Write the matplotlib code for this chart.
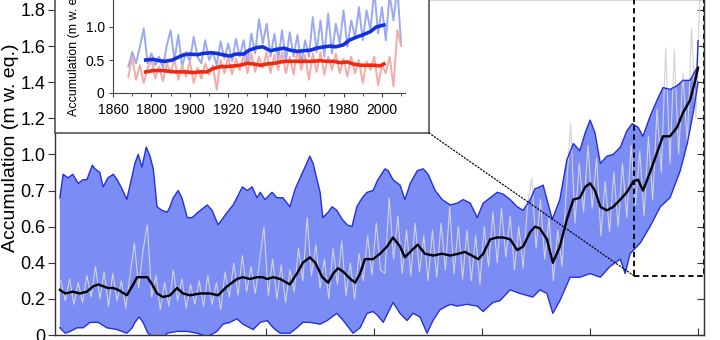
import matplotlib
matplotlib.use('Agg')
import matplotlib.pyplot as plt
import numpy as np
from matplotlib.patches import Rectangle, ConnectionPatch

plt.rcParams['font.family'] = ['Liberation Sans', 'DejaVu Sans']

# ---- main panel: reconstruction envelope, annual values, smoothed mean ----
up_years = [818, 824, 833, 842, 852, 861, 868, 878, 883, 892,
            898, 907, 917, 924, 933, 942, 948, 957, 963, 970,
            978, 985, 991, 998, 1007, 1017, 1022, 1028, 1037, 1044,
            1054, 1063, 1074, 1091, 1100, 1111, 1128, 1139, 1156, 1165,
            1174, 1183, 1189, 1198, 1211, 1220, 1231, 1244, 1254, 1263,
            1272, 1281, 1287, 1300, 1305, 1315, 1322, 1331, 1341, 1350,
            1359, 1368, 1378, 1387, 1398, 1407, 1420, 1426, 1435, 1448,
            1457, 1467, 1480, 1491, 1500, 1513, 1526, 1541, 1554, 1565,
            1578, 1591, 1602, 1615, 1628, 1639, 1652, 1665, 1676, 1689,
            1698, 1707, 1713, 1730, 1744, 1757, 1769, 1781, 1791, 1800,
            1809, 1819, 1831, 1843, 1856, 1868, 1878, 1889, 1898, 1911,
            1924, 1935, 1948, 1961, 1972, 1985, 1998, 2000]
up_vals = [0.76, 0.89, 0.87, 0.89, 0.84, 0.86, 0.86, 0.94, 0.92, 0.90,
           0.82, 0.87, 0.89, 0.86, 0.81, 0.75, 0.83, 0.95, 1.00, 0.93,
           1.04, 0.99, 0.92, 0.71, 0.69, 0.68, 0.71, 0.76, 0.80, 0.76,
           0.65, 0.65, 0.68, 0.72, 0.69, 0.61, 0.68, 0.72, 0.82, 0.80,
           0.82, 0.76, 0.79, 0.75, 0.79, 0.76, 0.76, 0.71, 0.81, 0.87,
           0.93, 0.99, 0.95, 0.79, 0.65, 0.68, 0.71, 0.69, 0.64, 0.61,
           0.60, 0.71, 0.76, 0.79, 0.80, 0.86, 0.92, 0.91, 0.86, 0.83,
           0.75, 0.84, 0.91, 0.92, 0.89, 0.80, 0.75, 0.72, 0.73, 0.75,
           0.73, 0.65, 0.73, 0.76, 0.79, 0.78, 0.75, 0.71, 0.69, 0.75,
           0.81, 0.82, 0.83, 0.64, 0.75, 0.97, 1.06, 1.02, 1.12, 1.19,
           1.12, 0.95, 0.99, 1.00, 1.04, 1.13, 1.17, 1.15, 1.10, 1.21,
           1.30, 1.37, 1.36, 1.38, 1.41, 1.41, 1.48, 1.63]

low_years = [818, 828, 837, 850, 861, 874, 889, 905, 924, 942,
             952, 957, 965, 972, 981, 991, 1004, 1017, 1035, 1054,
             1072, 1091, 1109, 1120, 1133, 1146, 1157, 1176, 1189, 1202,
             1213, 1226, 1244, 1257, 1268, 1281, 1300, 1313, 1331, 1343,
             1361, 1374, 1387, 1398, 1406, 1417, 1435, 1448, 1461, 1472,
             1485, 1498, 1509, 1522, 1541, 1554, 1572, 1591, 1602, 1609,
             1620, 1633, 1652, 1670, 1694, 1707, 1720, 1731, 1744, 1763,
             1781, 1800, 1819, 1837, 1856, 1865, 1874, 1893, 1911, 1930,
             1948, 1967, 1980, 1991, 2000]
low_vals = [0.04, 0.01, 0.02, 0.04, 0.04, 0.07, 0.07, 0.04, 0.03, 0.01,
            0.04, 0.07, 0.10, 0.07, 0.01, -0.01, -0.03, 0.01, 0.02, 0.02,
            0.01, -0.01, 0.02, 0.06, 0.07, 0.09, 0.06, 0.03, 0.07, 0.08,
            0.04, 0.01, 0.01, 0.04, 0.07, 0.07, 0.06, 0.08, 0.12, 0.08,
            0.01, 0.04, 0.12, 0.13, 0.11, 0.07, 0.18, 0.12, 0.08, 0.12,
            0.10, 0.01, 0.08, 0.14, 0.17, 0.16, 0.17, 0.16, 0.13, 0.15,
            0.18, 0.19, 0.25, 0.23, 0.21, 0.25, 0.23, 0.12, 0.19, 0.32,
            0.32, 0.34, 0.32, 0.38, 0.42, 0.34, 0.45, 0.51, 0.60, 0.71,
            0.76, 0.91, 1.06, 1.23, 1.40]

black_years = [818, 828, 842, 855, 868, 880, 889, 898, 907, 917,
               926, 942, 952, 961, 970, 980, 989, 998, 1009, 1022,
               1035, 1046, 1059, 1078, 1096, 1111, 1128, 1146, 1157, 1170,
               1183, 1193, 1202, 1213, 1226, 1244, 1257, 1268, 1281, 1291,
               1304, 1315, 1324, 1333, 1343, 1356, 1365, 1374, 1383, 1398,
               1411, 1424, 1435, 1448, 1457, 1470, 1481, 1494, 1509, 1526,
               1541, 1556, 1568, 1581, 1593, 1602, 1615, 1628, 1639, 1652,
               1665, 1676, 1689, 1698, 1707, 1720, 1731, 1744, 1757, 1769,
               1781, 1791, 1800, 1809, 1819, 1831, 1843, 1856, 1868, 1880,
               1889, 1898, 1911, 1924, 1935, 1948, 1961, 1972, 1985, 1994,
               2000]
black_vals = [0.25, 0.23, 0.24, 0.23, 0.24, 0.27, 0.28, 0.27, 0.26, 0.26,
              0.25, 0.22, 0.27, 0.32, 0.32, 0.32, 0.28, 0.23, 0.21, 0.22,
              0.26, 0.23, 0.22, 0.23, 0.23, 0.22, 0.27, 0.31, 0.32, 0.31,
              0.32, 0.32, 0.31, 0.32, 0.31, 0.28, 0.34, 0.40, 0.43, 0.40,
              0.32, 0.29, 0.34, 0.37, 0.35, 0.31, 0.29, 0.34, 0.42, 0.42,
              0.45, 0.49, 0.54, 0.49, 0.43, 0.47, 0.50, 0.45, 0.44, 0.45,
              0.44, 0.45, 0.46, 0.44, 0.42, 0.45, 0.53, 0.54, 0.54, 0.53,
              0.47, 0.49, 0.57, 0.60, 0.59, 0.53, 0.40, 0.49, 0.64, 0.75,
              0.76, 0.82, 0.84, 0.80, 0.71, 0.69, 0.71, 0.75, 0.79, 0.85,
              0.86, 0.80, 0.90, 1.01, 1.10, 1.10, 1.15, 1.23, 1.30, 1.40,
              1.48]

# annual values, every 8 years from 820
gray_vals = [0.30, 0.19, 0.31, 0.17, 0.29, 0.18, 0.33, 0.21, 0.38, 0.20,
             0.35, 0.16, 0.34, 0.19, 0.30, 0.15, 0.33, 0.51, 0.26, 0.47,
             0.61, 0.21, 0.33, 0.14, 0.29, 0.16, 0.36, 0.19, 0.31, 0.15,
             0.28, 0.17, 0.30, 0.16, 0.33, 0.17, 0.29, 0.14, 0.35, 0.21,
             0.40, 0.22, 0.44, 0.24, 0.38, 0.23, 0.41, 0.60, 0.22, 0.42,
             0.20, 0.39, 0.18, 0.36, 0.24, 0.48, 0.30, 0.65, 0.33, 0.50,
             0.26, 0.42, 0.20, 0.48, 0.28, 0.52, 0.22, 0.40, 0.20, 0.45,
             0.30, 0.55, 0.33, 0.62, 0.36, 0.34, 0.76, 0.42, 0.66, 0.34,
             0.58, 0.33, 0.62, 0.35, 0.55, 0.30, 0.58, 0.32, 0.62, 0.36,
             0.71, 0.34, 0.60, 0.31, 0.58, 0.30, 0.55, 0.28, 0.60, 0.38,
             0.68, 0.40, 0.70, 0.43, 0.66, 0.36, 0.60, 0.37, 0.72, 0.87,
             0.48, 0.75, 0.42, 0.65, 0.30, 0.58, 0.38, 0.80, 1.17, 0.62,
             0.95, 0.68, 1.05, 0.70, 0.98, 0.55, 0.85, 0.57, 0.90, 0.60,
             0.95, 0.65, 1.05, 0.72, 1.02, 0.66, 1.10, 0.75, 1.25, 0.90,
             1.59, 0.95, 1.58, 1.00, 1.45, 1.06, 1.70, 1.20, 1.95]
gray_years = 820 + 8 * np.arange(len(gray_vals))

main_yticks = [0, 0.2, 0.4, 0.6, 0.8, 1.0, 1.2, 1.4, 1.6, 1.8]
main_ylabels = ['0', '0.2', '0.4', '0.6', '0.7', '1.0', '1.2', '1.4', '1.6', '1.8']
main_xticks = [1200, 1400, 1600, 1800, 2000]

# ---- inset: two cores, annual and smoothed ----
ins_years = list(range(1868, 2011, 2))
blue_ann = [0.40, 0.62, 0.45, 0.70, 0.98, 0.45, 0.60, 0.42, 0.55, 0.38,
            0.72, 0.95, 0.50, 0.88, 0.40, 0.62, 0.48, 0.85, 0.55, 0.45,
            0.80, 0.50, 0.62, 0.42, 0.78, 0.52, 0.75, 0.48, 0.82, 0.55,
            0.80, 0.45, 0.90, 0.60, 1.12, 0.75, 1.05, 0.55, 0.90, 0.50,
            0.95, 0.48, 0.92, 0.55, 0.88, 0.45, 0.80, 0.55, 1.15, 0.62,
            1.10, 0.55, 1.20, 0.60, 1.05, 0.75, 1.25, 0.70, 1.10, 0.85,
            1.30, 0.80, 1.25, 0.95, 1.55, 0.90, 1.30, 0.80, 1.50, 1.10,
            1.60, 0.72]
red_ann = [0.24, 0.55, 0.20, 0.42, 0.15, 0.38, 0.50, 0.22, 0.40, 0.18,
           0.45, 0.30, 0.52, 0.20, 0.42, 0.25, 0.48, 0.15, 0.38, 0.22,
           0.45, 0.28, 0.42, 0.05, 0.50, 0.30, 0.55, 0.28, 0.52, 0.35,
           0.58, 0.30, 0.60, 0.32, 0.55, 0.38, 0.62, 0.30, 0.58, 0.35,
           0.62, 0.30, 0.55, 0.28, 0.65, 0.35, 0.58, 0.20, 0.60, 0.32,
           0.62, 0.28, 0.55, 0.35, 0.60, 0.30, 0.52, 0.25, 0.55, 0.30,
           0.50, 0.15, 0.48, 0.35, 0.55, 0.12, 0.42, 0.30, 0.55, 0.10,
           0.95, 0.72]

blue_sm_years = [1877, 1881, 1884, 1887, 1891, 1893, 1897, 1900, 1904, 1907,
                 1911, 1914, 1917, 1921, 1924, 1928, 1931, 1935, 1938, 1942,
                 1945, 1949, 1952, 1956, 1959, 1963, 1966, 1970, 1973, 1976,
                 1980, 1983, 1987, 1990, 1994, 1997, 2001]
blue_sm_vals = [0.50, 0.51, 0.49, 0.48, 0.50, 0.53, 0.58, 0.59, 0.58, 0.60,
                0.61, 0.60, 0.58, 0.56, 0.59, 0.59, 0.65, 0.69, 0.70, 0.64,
                0.66, 0.68, 0.65, 0.63, 0.64, 0.65, 0.68, 0.70, 0.71, 0.70,
                0.73, 0.80, 0.85, 0.88, 0.93, 1.00, 1.03]
red_sm_years = [1877, 1881, 1886, 1892, 1897, 1902, 1905, 1909, 1912, 1916,
                1919, 1923, 1926, 1930, 1933, 1937, 1940, 1944, 1947, 1950,
                1954, 1957, 1961, 1964, 1968, 1971, 1975, 1978, 1982, 1985,
                1989, 1992, 1996, 1999, 2001]
red_sm_vals = [0.32, 0.34, 0.34, 0.32, 0.32, 0.31, 0.32, 0.32, 0.37, 0.40,
               0.40, 0.41, 0.42, 0.45, 0.44, 0.42, 0.44, 0.45, 0.47, 0.48,
               0.48, 0.48, 0.48, 0.48, 0.49, 0.48, 0.48, 0.46, 0.47, 0.44,
               0.42, 0.42, 0.42, 0.41, 0.44]

ins_xticks = list(range(1860, 2001, 20))
ins_xlabels = ['1860', '1800', '1900', '1920', '1940', '1960', '1980', '2000']
ins_yticks = [0, 0.5, 1.0]
ins_ylabels = ['0', '0.5', '1.0']

# zoom window drawn on the main panel
zoom_start = 1881.5
zoom_floor = 0.327
zoom_end = 2010.5

label = 'Accumulation (m w. eq.)'
spine_col = '#333333'

fig = plt.figure(figsize=(7.2, 3.4), dpi=100)

ax = fig.add_axes([0.0764, 0.0147, 0.9014, 0.988])
band_x = np.concatenate([up_years, low_years[::-1]])
band_y = np.concatenate([up_vals, low_vals[::-1]])
ax.fill(band_x, band_y, facecolor='#7b8df5', edgecolor='none', zorder=1)
ax.plot(gray_years, gray_vals, color='#d2d2d2', lw=0.8, zorder=2)
ax.plot(up_years, up_vals, color='#2430d8', lw=1.0, zorder=3)
ax.plot(low_years, low_vals, color='#2430d8', lw=1.0, zorder=3)
ax.plot(black_years, black_vals, color='black', lw=1.7, zorder=4)

ax.add_patch(Rectangle((zoom_start, zoom_floor), zoom_end - zoom_start, 3,
                       fill=False, ec='black', lw=1.3, ls=(0, (3, 2)), zorder=5))

ax.set_xlim(809, 2011)
ax.set_ylim(0, 1.86)
ax.set_xticks(main_xticks)
ax.set_yticks(main_yticks)
ax.set_yticklabels(main_ylabels)
ax.tick_params(axis='x', direction='in', length=5, labelbottom=False, color=spine_col)
ax.tick_params(axis='y', direction='out', length=5, labelsize=13, pad=2, color=spine_col)
for s in ax.spines.values():
    s.set_color(spine_col)
    s.set_linewidth(1.0)
sec = ax.secondary_yaxis('right')
sec.set_yticks(main_yticks)
sec.tick_params(direction='in', length=5, labelright=False, color=spine_col)
sec.spines['right'].set_color(spine_col)

fig.text(11 / 720, 1 - 148 / 340, label, rotation=90, ha='center', va='center', fontsize=14)

# inset frame
frame = fig.add_axes([55 / 720, 207 / 340, 374 / 720, 0.5], zorder=3)
frame.set_xticks([])
frame.set_yticks([])
frame.set_facecolor('white')
for s in frame.spines.values():
    s.set_color('#555555')
    s.set_linewidth(1.2)

ins = fig.add_axes([113 / 720, 247 / 340, 292 / 720, 99 / 340], zorder=4)
ins.patch.set_alpha(0)
ins.plot(ins_years, blue_ann, color='#9aa9f2', lw=1.4)
ins.plot(ins_years, red_ann, color='#f4aaa5', lw=1.4)
ins.plot(blue_sm_years, blue_sm_vals, color='#1230e0', lw=2.6)
ins.plot(red_sm_years, red_sm_vals, color='#ee2a10', lw=2.6)
ins.set_xlim(1860, 2012)
ins.set_ylim(0, 1.5)
ins.set_xticks(ins_xticks)
ins.set_xticklabels(ins_xlabels)
ins.set_xticks(list(range(1870, 2011, 20)), minor=True)
ins.set_yticks(ins_yticks)
ins.set_yticklabels(ins_ylabels)
ins.tick_params(axis='x', which='major', direction='out', length=3, labelsize=10, pad=4, color='#444444')
ins.tick_params(axis='y', which='major', direction='out', length=3, labelsize=10, pad=3, color='#444444')
ins.tick_params(which='minor', direction='out', length=2, color='#444444')
ins.spines['top'].set_visible(False)
ins.spines['right'].set_visible(False)
for k in ('left', 'bottom'):
    ins.spines[k].set_color('#444444')

fig.text(74 / 720, 1 - 50 / 340, label, rotation=90, ha='center', va='center',
         fontsize=9, zorder=6)

con = ConnectionPatch(xyA=(429 / 720, 207 / 340), coordsA='figure fraction',
                      xyB=(zoom_start, zoom_floor), coordsB='data', axesB=ax,
                      ls=':', lw=0.9, color='black', zorder=3.5)
fig.add_artist(con)

fig.savefig('out.png', dpi=100)
